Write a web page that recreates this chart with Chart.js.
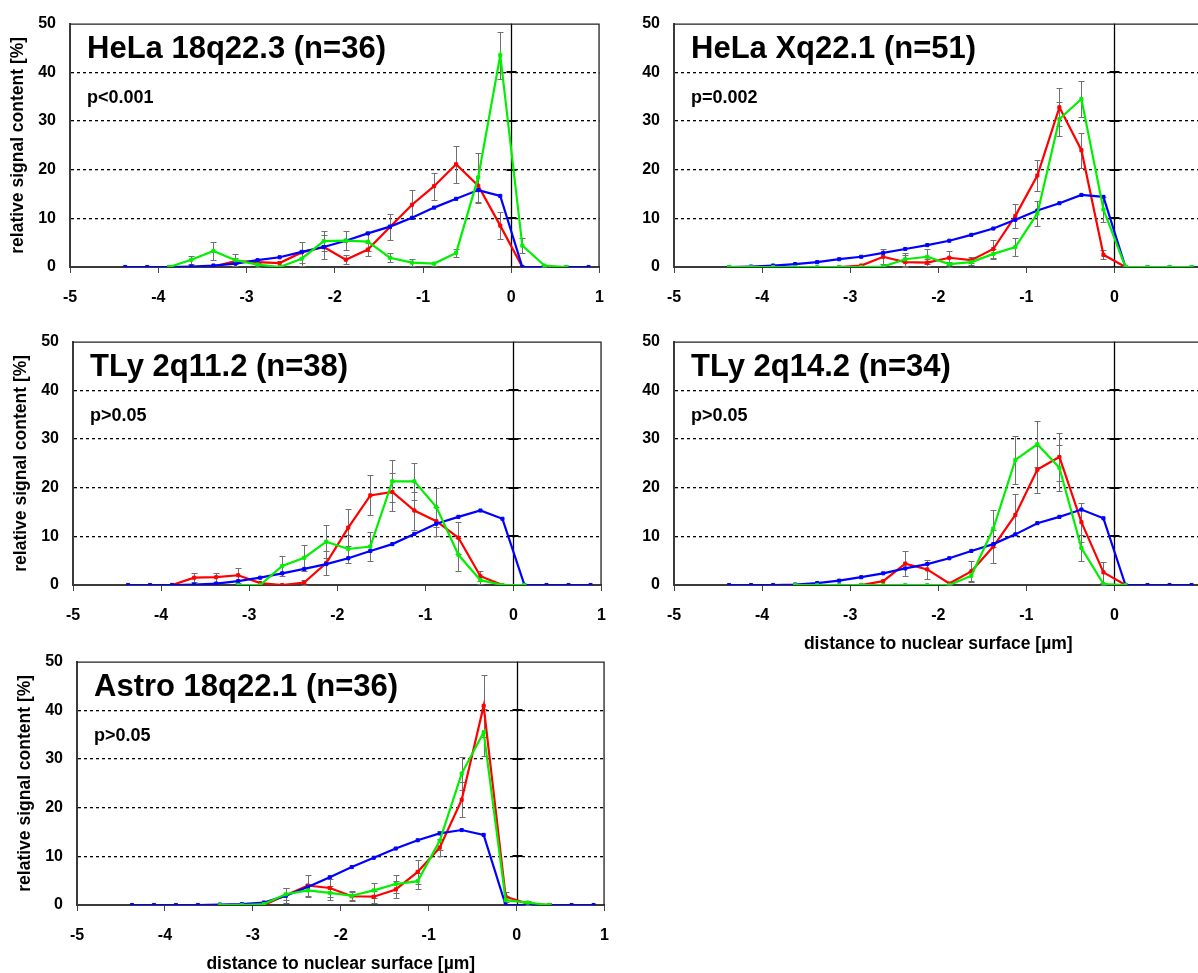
<!DOCTYPE html>
<html>
<head>
<meta charset="utf-8">
<script src="https://cdn.jsdelivr.net/npm/chart.js@4.4.0/dist/chart.umd.min.js"></script>
<style>
  html, body { margin: 0; padding: 0; background: #fff; }
  body { width: 1198px; height: 973px; overflow: hidden; position: relative; }
  canvas { position: absolute; }
</style>
</head>
<body>
<canvas id="c1"></canvas>
<canvas id="c2"></canvas>
<canvas id="c3"></canvas>
<canvas id="c4"></canvas>
<canvas id="c5"></canvas>
<script>
// bin centres (µm)
const xPos = [-4.375, -4.125, -3.875, -3.625, -3.375, -3.125, -2.875, -2.625, -2.375, -2.125, -1.875,
              -1.625, -1.375, -1.125, -0.875, -0.625, -0.375, -0.125, 0.125, 0.375, 0.625, 0.875];
const xTicks = [-5, -4, -3, -2, -1, 0, 1];
const yTicks = [0, 10, 20, 30, 40, 50];

const titles = ['HeLa 18q22.3 (n=36)', 'HeLa Xq22.1 (n=51)', 'TLy 2q11.2 (n=38)', 'TLy 2q14.2 (n=34)', 'Astro 18q22.1 (n=36)'];
const pTexts = ['p<0.001', 'p=0.002', 'p>0.05', 'p>0.05', 'p>0.05'];

// HeLa 18q22.3
const blue1 = [0, 0, 0, 0.1, 0.3, 0.7, 1.4, 2.0, 3.1, 4.1, 5.4, 6.9, 8.3, 10.1, 12.2, 14.0, 15.8, 14.6, 0, 0, 0, 0];
const red1 = [null, null, null, 0, 0.1, 1.2, 1.0, 0.8, 3.0, 4.1, 1.5, 3.6, 8.2, 12.8, 16.6, 21.1, 16.7, 8.5, 0, null, null, null];
const redErr1 = [0, 0, 0, 0, 0, 0.6, 0.6, 0.5, 2.1, 2.4, 0.9, 1.4, 2.7, 3.0, 2.8, 3.8, 3.5, 2.8, 0, 0, 0, 0];
const green1 = [null, null, 0, 1.5, 3.3, 1.4, 0.5, 0, 1.7, 5.3, 5.4, 5.2, 1.9, 0.9, 0.7, 2.9, 18.4, 43.5, 4.4, 0.3, 0, null];
const greenErr1 = [0, 0, 0, 0.8, 1.9, 1.2, 0.4, 0, 1.5, 2.0, 2.0, 2.0, 0.9, 0.7, 0.4, 0.9, 5.0, 4.8, 1.6, 0.2, 0, 0];

// HeLa Xq22.1
const blue2 = [0, 0.1, 0.3, 0.6, 1.0, 1.6, 2.1, 2.9, 3.7, 4.5, 5.4, 6.6, 7.9, 9.7, 11.6, 13.1, 14.8, 14.4, 0, 0, 0, 0];
const red2 = [null, null, null, null, null, 0, 0.3, 2.1, 1.0, 0.9, 1.9, 1.4, 3.7, 10.5, 18.8, 32.8, 24.0, 2.5, 0, null, null, null];
const redErr2 = [0, 0, 0, 0, 0, 0, 0, 1.5, 1.4, 0.7, 1.4, 0.6, 1.8, 2.5, 3.2, 3.9, 3.6, 0.9, 0, 0, 0, 0];
const green2 = [0, 0, 0, 0, 0, 0, 0, 0.1, 1.6, 2.1, 0.6, 1.0, 2.7, 4.1, 11.0, 30.4, 34.5, 11.8, 0, 0, 0, 0];
const greenErr2 = [0, 0, 0, 0, 0, 0, 0, 0, 1.3, 1.5, 0.5, 0.5, 1.1, 1.8, 2.5, 3.5, 3.7, 2.5, 0, 0, 0, 0];

// TLy 2q11.2
const blue3 = [0, 0, 0, 0.1, 0.3, 0.8, 1.5, 2.4, 3.3, 4.3, 5.5, 7.0, 8.4, 10.5, 12.6, 14.0, 15.3, 13.6, 0, 0, 0, 0];
const red3 = [null, null, 0, 1.5, 1.6, 2.0, 0.4, 0, 0.5, 4.5, 11.8, 18.4, 19.1, 15.3, 13.1, 9.7, 1.8, 0, null, null, null, null];
const redErr3 = [0, 0, 0, 0.9, 0.9, 1.5, 0, 0, 0.5, 2.4, 3.8, 4.1, 3.9, 3.9, 3.0, 3.3, 1.0, 0, 0, 0, 0, 0];
const green3 = [null, null, null, null, null, 0, 0, 3.9, 5.6, 8.9, 7.4, 7.9, 21.3, 21.3, 16.0, 6.2, 1.0, 0, 0, null, null, null];
const greenErr3 = [0, 0, 0, 0, 0, 0, 0, 2.1, 2.7, 3.4, 2.9, 2.9, 4.3, 3.8, 4.0, 3.4, 0.8, 0, 0, 0, 0, 0];

// TLy 2q14.2
const blue4 = [0, 0, 0, 0.1, 0.4, 0.9, 1.6, 2.4, 3.4, 4.3, 5.5, 7.0, 8.4, 10.4, 12.7, 14.0, 15.5, 13.7, 0, 0, 0, 0];
const red4 = [null, null, null, null, null, null, 0, 0.8, 4.4, 3.2, 0.3, 2.8, 7.9, 14.4, 23.7, 26.3, 12.9, 2.6, 0, null, null, null];
const redErr4 = [0, 0, 0, 0, 0, 0, 0, 0, 2.6, 2.0, 0.3, 2.1, 3.3, 4.2, 4.8, 4.9, 4.0, 2.2, 0, 0, 0, 0];
const green4 = [null, null, null, 0, 0, 0, 0, 0, 0, 0, 0, 1.9, 11.6, 25.7, 28.9, 24.1, 7.6, 0.2, 0, null, null, null];
const greenErr4 = [0, 0, 0, 0, 0, 0, 0, 0, 0, 0, 0, 1.0, 3.8, 5.0, 4.7, 4.7, 2.6, 0.3, 0, 0, 0, 0];

// Astro 18q22.1
const blue5 = [0, 0, 0, 0, 0.1, 0.2, 0.5, 1.9, 3.7, 5.7, 7.8, 9.7, 11.6, 13.3, 14.7, 15.4, 14.4, 0, 0, 0, 0, 0];
const red5 = [null, null, null, null, null, 0, 0, 2.0, 4.0, 3.5, 1.8, 1.7, 3.2, 6.8, 11.8, 21.6, 40.9, 1.7, 0.3, 0, null, null];
const redErr5 = [0, 0, 0, 0, 0, 0, 0, 1.5, 2.2, 1.8, 1.0, 1.2, 1.8, 2.5, 1.8, 3.6, 6.4, 1.0, 0.3, 0, 0, 0];
const green5 = [null, null, null, null, 0, 0, 0.2, 2.2, 3.0, 2.5, 1.9, 3.0, 4.3, 4.9, 13.2, 27.0, 35.5, 1.0, 0.5, 0, null, null];
const greenErr5 = [0, 0, 0, 0, 0, 0, 0, 1.2, 1.4, 1.4, 0.8, 1.6, 1.8, 1.6, 2.0, 3.3, 4.8, 0.8, 0.3, 0, 0, 0];

const FONT = "'Liberation Sans', Arial, sans-serif";
const RED = '#ff0000', GREEN = '#00f000', BLUE = '#0000ff';

// canvas placement: left/top of canvas, plot width; y axis box 70 wide, 21 px above plot
const panels = [
  { id: 'c1', left: 0, top: 0, plotW: 529, yTitle: true, xTitle: false, blue: blue1, red: red1, redErr: redErr1, green: green1, greenErr: greenErr1 },
  { id: 'c2', left: 604, top: 0, plotW: 528, yTitle: false, xTitle: false, blue: blue2, red: red2, redErr: redErr2, green: green2, greenErr: greenErr2 },
  { id: 'c3', left: 3, top: 318, plotW: 528, yTitle: true, xTitle: false, blue: blue3, red: red3, redErr: redErr3, green: green3, greenErr: greenErr3 },
  { id: 'c4', left: 604, top: 318, plotW: 528, yTitle: false, xTitle: true, blue: blue4, red: red4, redErr: redErr4, green: green4, greenErr: greenErr4 },
  { id: 'c5', left: 7, top: 638, plotW: 527, yTitle: true, xTitle: true, blue: blue5, red: red5, redErr: redErr5, green: green5, greenErr: greenErr5 }
];

function pts(arr) {
  return xPos.map((x, i) => ({ x: x, y: arr[i] }));
}

function makeDecor(p, idx) {
  return {
    id: 'decor' + idx,
    beforeDatasetsDraw(chart) {
      const { ctx, chartArea: a, scales: { x, y } } = chart;
      ctx.save();
      ctx.setLineDash([]);
      // vertical line at 0 with crossing ticks
      const x0 = Math.round(x.getPixelForValue(0)) + 0.5;
      ctx.strokeStyle = '#000';
      ctx.lineWidth = 1.3;
      ctx.beginPath();
      ctx.moveTo(x0, a.top);
      ctx.lineTo(x0, a.bottom);
      ctx.stroke();
      ctx.lineWidth = 2;
      ctx.beginPath();
      yTicks.forEach(v => {
        if (v === 0 || v === 50) return;
        const py = Math.round(y.getPixelForValue(v));
        ctx.moveTo(x0 - 5, py);
        ctx.lineTo(x0 + 5, py);
      });
      ctx.stroke();
      // error bars
      ctx.strokeStyle = '#707070';
      ctx.lineWidth = 1;
      [[p.red, p.redErr], [p.green, p.greenErr]].forEach(([vals, errs]) => {
        vals.forEach((v, i) => {
          if (v === null || !errs[i]) return;
          const px = Math.round(x.getPixelForValue(xPos[i])) + 0.5;
          const y1 = Math.round(y.getPixelForValue(v + errs[i])) + 0.5;
          const y2 = Math.round(y.getPixelForValue(Math.max(0, v - errs[i]))) + 0.5;
          ctx.beginPath();
          ctx.moveTo(px, y1); ctx.lineTo(px, y2);
          ctx.moveTo(px - 3, y1); ctx.lineTo(px + 3, y1);
          ctx.moveTo(px - 3, y2); ctx.lineTo(px + 3, y2);
          ctx.stroke();
        });
      });
      ctx.restore();
    },
    afterDraw(chart) {
      const { ctx, chartArea: a } = chart;
      ctx.save();
      ctx.setLineDash([]);
      // top and right frame
      ctx.strokeStyle = '#222';
      ctx.lineWidth = 1.3;
      ctx.beginPath();
      ctx.moveTo(a.left, a.top + 0.5);
      ctx.lineTo(a.right - 0.5, a.top + 0.5);
      ctx.lineTo(a.right - 0.5, a.bottom);
      ctx.stroke();
      ctx.fillStyle = '#000';
      ctx.textBaseline = 'alphabetic';
      ctx.textAlign = 'left';
      ctx.font = 'bold 31px ' + FONT;
      ctx.fillText(titles[idx], a.left + 17, a.top + 34);
      ctx.font = 'bold 18px ' + FONT;
      ctx.fillText(pTexts[idx], a.left + 17, a.top + 79);
      ctx.restore();
    }
  };
}

panels.forEach((p, idx) => {
  const canvas = document.getElementById(p.id);
  const xh = p.xTitle ? 75 : 45;
  // right margin is set by the last x label + tick padding (~20px)
  const w = 70 + p.plotW + 20;
  const h = 21 + 246 + xh;
  canvas.width = w;
  canvas.height = h;
  canvas.style.width = w + 'px';
  canvas.style.height = h + 'px';
  canvas.style.left = p.left + 'px';
  canvas.style.top = p.top + 'px';

  const lineStyle = (color) => ({
    borderColor: color,
    backgroundColor: color,
    borderWidth: 2.2,
    pointStyle: 'rect',
    pointRadius: 2.2,
    pointBorderWidth: 1,
    pointBorderColor: color,
    pointBackgroundColor: color,
    tension: 0,
    spanGaps: false
  });

  new Chart(canvas.getContext('2d'), {
    type: 'line',
    data: {
      datasets: [
        Object.assign({ label: 'green', data: pts(p.green) }, lineStyle(GREEN)),
        Object.assign({ label: 'blue', data: pts(p.blue) }, lineStyle(BLUE)),
        Object.assign({ label: 'red', data: pts(p.red) }, lineStyle(RED))
      ]
    },
    options: {
      responsive: false,
      animation: false,
      devicePixelRatio: 1,
      layout: { padding: { left: 0, top: 21, right: 0, bottom: 0 } },
      plugins: { legend: { display: false }, tooltip: { enabled: false } },
      scales: {
        x: {
          type: 'linear',
          min: -5, max: 1,
          afterFit: (s) => { s.height = xh; },
          afterBuildTicks: (s) => { s.ticks = xTicks.map(v => ({ value: v })); },
          ticks: { color: '#000', font: { family: FONT, size: 16, weight: 'bold' }, padding: 15, maxRotation: 0 },
          grid: { drawOnChartArea: false, drawTicks: true, tickLength: 6, tickColor: '#444', tickWidth: 1 },
          border: { display: true, color: '#3a3a3a', width: 2 },
          title: {
            display: p.xTitle,
            text: 'distance to nuclear surface [µm]',
            color: '#000',
            font: { family: FONT, size: 17.5, weight: 'bold' },
            padding: { top: 0, bottom: 5 }
          }
        },
        y: {
          min: 0, max: 50,
          afterFit: (s) => { s.width = 70; },
          afterBuildTicks: (s) => { s.ticks = yTicks.map(v => ({ value: v })); },
          ticks: { color: '#000', font: { family: FONT, size: 16, weight: 'bold' }, padding: 14 },
          grid: {
            drawTicks: false,
            color: (c) => (c.tick && (c.tick.value === 0 || c.tick.value === 50)) ? 'rgba(0,0,0,0)' : '#000',
            lineWidth: 1.3
          },
          border: { display: true, color: '#3a3a3a', width: 2, dash: [3, 3] },
          title: {
            display: p.yTitle,
            text: 'relative signal content [%]',
            color: '#000',
            font: { family: FONT, size: 17.5, weight: 'bold' },
            padding: { top: 8, bottom: 0 }
          }
        }
      }
    },
    plugins: [makeDecor(p, idx)]
  });
});
</script>
</body>
</html>
